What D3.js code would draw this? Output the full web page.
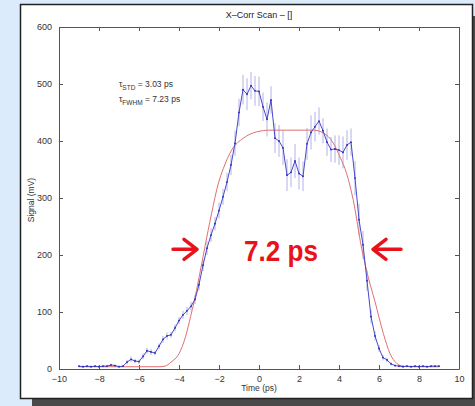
<!DOCTYPE html>
<html lang="en">
<head>
<meta charset="UTF-8">
<script src="https://d3js.org/d3.v7.min.js"></script>
<style>
    html, body { margin: 0; padding: 0; background: #dcebfb; }
    svg { display: block; font-family: "Liberation Sans", Arial, sans-serif; }
</style>
<title>X-Corr Scan</title>
</head>
<body>
<script>
// measured scan points (ps, mV) with error bars
const time = [-9.0,-8.8,-8.6,-8.4,-8.2,-8.0,-7.8,-7.6,-7.4,-7.2,
    -7.0,-6.8,-6.6,-6.4,-6.2,-6.0,-5.8,-5.6,-5.4,-5.2,
    -5.0,-4.8,-4.6,-4.4,-4.2,-4.0,-3.8,-3.6,-3.4,-3.2,
    -3.0,-2.8,-2.6,-2.4,-2.2,-2.0,-1.8,-1.6,-1.4,-1.2,
    -1.0,-0.8,-0.6,-0.4,-0.2,0.0,0.2,0.4,0.6,0.8,
    1.0,1.2,1.4,1.6,1.8,2.0,2.2,2.4,2.6,2.8,
    3.0,3.2,3.4,3.6,3.8,4.0,4.2,4.4,4.6,4.8,
    5.0,5.2,5.4,5.6,5.8,6.0,6.2,6.4,6.6,6.8,
    7.0,7.2,7.4,7.6,7.8,8.0,8.2,8.4,8.6,8.8,9.0];
const signal = [5,4,5,4,5,4,5,5,7,6,
    4,5,12,17,14,13,22,32,30,28,
    40,52,58,60,72,85,95,102,110,122,
    148,182,212,235,255,278,302,328,358,396,
    450,490,482,497,488,487,460,438,472,405,
    400,388,340,345,365,343,338,395,415,425,
    435,418,398,385,386,384,380,393,398,335,
    262,218,155,92,58,36,20,16,9,6,
    5,4,5,4,5,4,5,4,5,5,5];
const errBar = [2,2,2,2,2,2,2,2,2,2,
    2,2,4,5,4,4,5,5,5,4,
    5,6,6,5,6,6,7,7,8,8,
    10,10,12,12,12,14,14,16,18,22,
    24,26,28,24,26,26,25,30,24,26,
    28,30,28,26,30,28,26,28,30,26,
    24,22,24,22,24,26,28,26,24,30,
    28,24,18,12,8,6,5,4,3,2,
    2,2,2,2,2,2,2,2,2,2,2];

// fitted flat-top curve
const fitTime = [-9,-6,-5,-4.7,-4.4,-4.0,-3.67,-3.42,-3.25,-3.0,-2.7,-2.37,-2.03,-1.78,-1.37,-0.78,-0.12,0.55,
    2.72,3.22,3.72,4.05,4.38,4.72,5.13,5.47,5.8,6.22,6.55,6.88,7.2,7.6,9];
const fitSignal = [4,4,4,5,12,27,57,92,117,160,215,273,326,352,384,405,416,419,
    419,414,396,372,343,295,212,160,118,62,27,10,5,4,4];

const xTicks = [-10,-8,-6,-4,-2,0,2,4,6,8,10];
const yTicks = [0,100,200,300,400,500,600];

const W = 475, H = 406;
const margin = {left: 59, right: 16, top: 27, bottom: 37};

const svg = d3.select("body").append("svg")
    .attr("width", W).attr("height", H);

// panel with shadow
svg.append("rect").attr("x", 32).attr("y", 16).attr("width", 443).attr("height", 390).attr("fill", "#4a4a4a");
svg.append("rect").attr("x", 20.5).attr("y", 4.5).attr("width", 452).attr("height", 394)
    .attr("fill", "#fff").attr("stroke", "#222").attr("stroke-width", 1.5);

const x = d3.scaleLinear().domain([-10, 10]).range([margin.left, W - margin.right]);
const y = d3.scaleLinear().domain([0, 600]).range([H - margin.bottom, margin.top]);

const axisColor = "#555";
function styleAxis(g, hideLabels) {
    g.select(".domain").attr("stroke", axisColor);
    g.selectAll(".tick line").attr("stroke", axisColor);
    g.selectAll(".tick text").attr("fill", "#333").attr("font-size", 9)
        .attr("font-family", "Liberation Sans, Arial, sans-serif");
    if (hideLabels) g.selectAll(".tick text").remove();
}

svg.append("g").attr("transform", `translate(0,${y(0)})`)
    .call(d3.axisBottom(x).tickValues(xTicks).tickSizeInner(-4).tickSizeOuter(0).tickPadding(7)
        .tickFormat(d => d < 0 ? "\u2212" + Math.abs(d) : d))
    .call(g => styleAxis(g, false));
svg.append("g").attr("transform", `translate(0,${y(600)})`)
    .call(d3.axisTop(x).tickValues(xTicks).tickSizeInner(-4).tickSizeOuter(0))
    .call(g => styleAxis(g, true));
svg.append("g").attr("transform", `translate(${x(-10)},0)`)
    .call(d3.axisLeft(y).tickValues(yTicks).tickSizeInner(-4).tickSizeOuter(0).tickPadding(7))
    .call(g => styleAxis(g, false));
svg.append("g").attr("transform", `translate(${x(10)},0)`)
    .call(d3.axisRight(y).tickValues(yTicks).tickSizeInner(-4).tickSizeOuter(0))
    .call(g => styleAxis(g, true));

// title and axis labels
svg.append("text").attr("x", x(0)).attr("y", 18).attr("text-anchor", "middle")
    .attr("font-size", 9).attr("fill", "#222").text("X\u2013Corr Scan \u2013 []");
svg.append("text").attr("x", x(0)).attr("y", 391).attr("text-anchor", "middle")
    .attr("font-size", 8.5).attr("fill", "#333").text("Time  (ps)");
svg.append("text").attr("transform", `translate(34,${y(300) + 2}) rotate(-90)`)
    .attr("text-anchor", "middle").attr("font-size", 8.5).attr("fill", "#333").text("Signal  (mV)");

const pts = time.map((t, i) => ({t: t, v: signal[i], e: errBar[i]}));

// error bars
svg.append("g").selectAll("line").data(pts).enter().append("line")
    .attr("x1", d => x(d.t)).attr("x2", d => x(d.t))
    .attr("y1", d => y(d.v - d.e)).attr("y2", d => y(d.v + d.e))
    .attr("stroke", "#b2b2e8").attr("stroke-width", 1);

// fit
const fitPts = fitTime.map((t, i) => ({t: t, v: fitSignal[i]}));
svg.append("path").datum(fitPts)
    .attr("d", d3.line().x(d => x(d.t)).y(d => y(d.v)).curve(d3.curveMonotoneX))
    .attr("fill", "none").attr("stroke", "#e07070").attr("stroke-width", 1);

// data line + markers
svg.append("path").datum(pts)
    .attr("d", d3.line().x(d => x(d.t)).y(d => y(d.v)))
    .attr("fill", "none").attr("stroke", "#4848cc").attr("stroke-width", 1);
svg.append("g").selectAll("circle").data(pts).enter().append("circle")
    .attr("cx", d => x(d.t)).attr("cy", d => y(d.v)).attr("r", 0.9)
    .attr("fill", "#2a2ab0");

// tau annotation
const tau = svg.append("g").attr("font-size", 8.5).attr("fill", "#333");
const t1 = tau.append("text").attr("x", x(-7)).attr("y", y(495));
t1.append("tspan").text("\u03c4");
t1.append("tspan").attr("dy", 3).attr("font-size", 6.5).text("STD");
t1.append("tspan").attr("dy", -3).text(" = 3.03 ps");
const t2 = tau.append("text").attr("x", x(-7)).attr("y", y(468));
t2.append("tspan").text("\u03c4");
t2.append("tspan").attr("dy", 3).attr("font-size", 6.5).text("FWHM");
t2.append("tspan").attr("dy", -3).text(" = 7.23 ps");

// FWHM arrows and label
const red = "#e8131a";
const ay = y(210);
const lt = x(-3.1), rt = x(5.7);
svg.append("path")
    .attr("d", `M${lt - 24},${ay}L${lt},${ay}M${lt - 13},${ay - 10}L${lt},${ay}L${lt - 13},${ay + 10}`)
    .attr("fill", "none").attr("stroke", red).attr("stroke-width", 3.5)
    .attr("stroke-linecap", "round").attr("stroke-linejoin", "round");
svg.append("path")
    .attr("d", `M${rt + 28},${ay}L${rt},${ay}M${rt + 13},${ay - 10}L${rt},${ay}L${rt + 13},${ay + 10}`)
    .attr("fill", "none").attr("stroke", red).attr("stroke-width", 3.5)
    .attr("stroke-linecap", "round").attr("stroke-linejoin", "round");
svg.append("text").attr("x", x(-0.75)).attr("y", y(190))
    .attr("font-size", 30).attr("font-weight", "bold").attr("fill", red)
    .attr("textLength", 74).attr("lengthAdjust", "spacingAndGlyphs")
    .text("7.2 ps");
</script>
</body>
</html>
